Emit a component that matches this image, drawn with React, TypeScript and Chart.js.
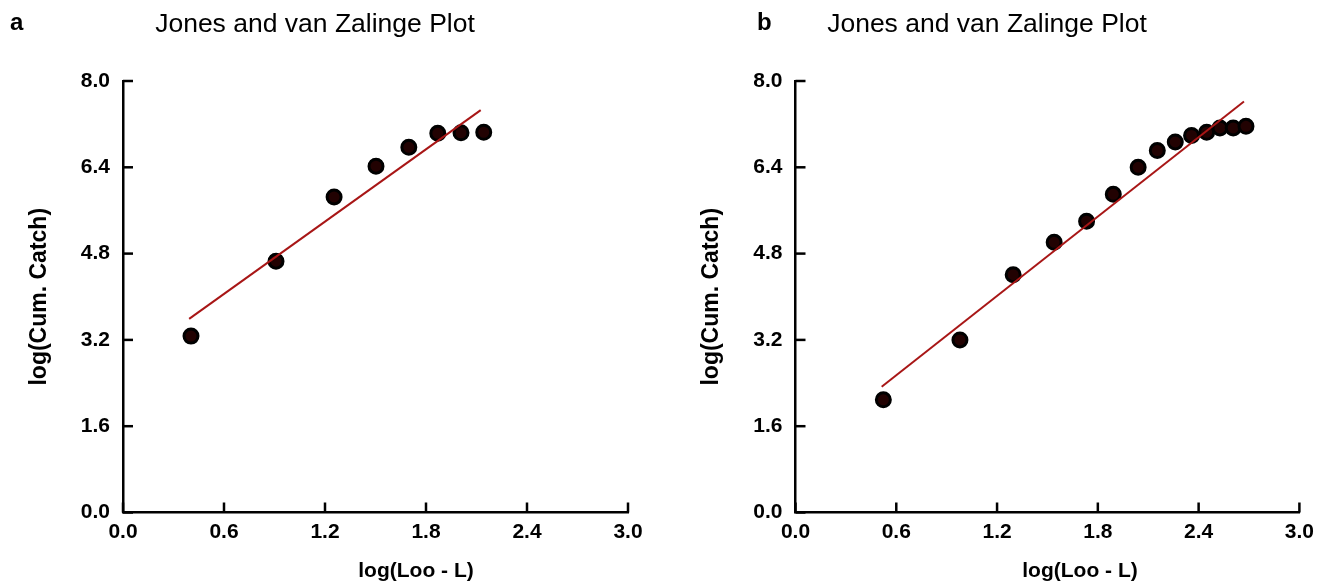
import React, { useEffect, useRef } from "react";
import { Chart, registerables } from "chart.js";

Chart.register(...registerables);

// ---- data ----
const xTickValues = [0, 0.6, 1.2, 1.8, 2.4, 3.0];
const yTickValues = [0, 1.6, 3.2, 4.8, 6.4, 8.0];

const aX = [0.404, 0.909, 1.254, 1.503, 1.698, 1.87, 2.008, 2.143];
const aY = [3.27, 4.66, 5.85, 6.42, 6.77, 7.03, 7.04, 7.05];
const aFitX = [0.393, 2.125];
const aFitY = [3.59, 7.46];

const bX = [0.523, 0.979, 1.296, 1.54, 1.733, 1.892, 2.04, 2.154, 2.261, 2.358, 2.448, 2.527, 2.606, 2.682];
const bY = [2.09, 3.2, 4.41, 5.01, 5.4, 5.9, 6.4, 6.71, 6.87, 6.99, 7.05, 7.13, 7.13, 7.16];
const bFitX = [0.513, 2.67];
const bFitY = [2.33, 7.62];

const panelLetters = ["a", "b"];
const plotTitle = "Jones and van Zalinge Plot";
const xAxisTitle = "log(Loo - L)";
const yAxisTitle = "log(Cum. Catch)";

const FONT = "'Liberation Sans', Arial, sans-serif";

type PanelLayout = {
  canvasLeft: number;
  canvasWidth: number;
  areaLeft: number;
  areaRight: number;
  titleX: number;
  xTitleX: number;
  yTitleX: number;
  letterX: number;
};

const layouts: PanelLayout[] = [
  { canvasLeft: 0, canvasWidth: 662, areaLeft: 123, areaRight: 628, titleX: 315, xTitleX: 416, yTitleX: 40, letterX: 10 },
  { canvasLeft: 662, canvasWidth: 663, areaLeft: 133.5, areaRight: 637.4, titleX: 325, xTitleX: 418, yTitleX: 50, letterX: 95 },
];

const AREA_TOP = 81;
const AREA_BOTTOM = 512.5;
const HEIGHT = 584;

const decorPlugin = {
  id: "decor",
  afterDraw(chart: any, _args: any, opts: any) {
    const { ctx, chartArea } = chart;
    const xs = chart.scales.x;
    const ys = chart.scales.y;
    ctx.save();
    ctx.strokeStyle = "#000";
    ctx.lineWidth = 2.5;
    ctx.lineCap = "butt";
    xs.ticks.forEach((t: any) => {
      const px = xs.getPixelForValue(t.value);
      ctx.beginPath();
      ctx.moveTo(px, chartArea.bottom);
      ctx.lineTo(px, chartArea.bottom - 10);
      ctx.stroke();
    });
    ys.ticks.forEach((t: any) => {
      const py = ys.getPixelForValue(t.value);
      ctx.beginPath();
      ctx.moveTo(chartArea.left, py);
      ctx.lineTo(chartArea.left + 10, py);
      ctx.stroke();
    });
    ctx.fillStyle = "#000";
    ctx.textBaseline = "alphabetic";
    ctx.font = `bold 24px ${FONT}`;
    ctx.textAlign = "left";
    ctx.fillText(opts.letter, opts.letterX, 30);
    ctx.font = `26.5px ${FONT}`;
    ctx.textAlign = "center";
    ctx.fillText(plotTitle, opts.titleX, 32);
    ctx.font = `bold 21px ${FONT}`;
    ctx.fillText(xAxisTitle, opts.xTitleX, 577);
    ctx.translate(opts.yTitleX, (chartArea.top + chartArea.bottom) / 2);
    ctx.rotate(-Math.PI / 2);
    ctx.textBaseline = "middle";
    ctx.font = `bold 23px ${FONT}`;
    ctx.fillText(yAxisTitle, 0, 0);
    ctx.restore();
  },
};

function Panel({ idx, xs, ys, fx, fy }: { idx: number; xs: number[]; ys: number[]; fx: number[]; fy: number[] }) {
  const ref = useRef<HTMLCanvasElement>(null);
  const L = layouts[idx];
  useEffect(() => {
    if (!ref.current) return;
    const axisBorder = { display: true, color: "#000", width: 2.5 };
    const tickFont = { family: FONT, size: 21, weight: "bold" as const };
    const chart = new Chart(ref.current, {
      type: "scatter",
      data: {
        datasets: [
          {
            data: fx.map((x, i) => ({ x, y: fy[i] })),
            showLine: true,
            borderColor: "#a81616",
            borderWidth: 2,
            pointRadius: 0,
            pointHoverRadius: 0,
          },
          {
            data: xs.map((x, i) => ({ x, y: ys[i] })),
            showLine: false,
            pointRadius: 7,
            pointHoverRadius: 7,
            pointBackgroundColor: "#220202",
            pointBorderColor: "#000",
            pointBorderWidth: 3,
          },
        ],
      },
      options: {
        animation: false,
        responsive: false,
        events: [],
        layout: { padding: { left: 0, top: AREA_TOP, right: L.canvasWidth - L.areaRight, bottom: 0 } },
        plugins: {
          legend: { display: false },
          tooltip: { enabled: false },
          title: { display: false },
          decor: { letter: panelLetters[idx], letterX: L.letterX, titleX: L.titleX, xTitleX: L.xTitleX, yTitleX: L.yTitleX },
        } as any,
        scales: {
          x: {
            type: "linear",
            min: 0,
            max: 3,
            grid: { display: false, drawTicks: false },
            border: axisBorder,
            afterBuildTicks: (s: any) => {
              s.ticks = xTickValues.map((v) => ({ value: v }));
            },
            afterFit: (s: any) => {
              s.height = HEIGHT - AREA_BOTTOM;
            },
            ticks: {
              color: "#000",
              font: tickFont,
              padding: 7,
              maxRotation: 0,
              autoSkip: false,
              callback: (v: any) => Number(v).toFixed(1),
            },
          },
          y: {
            type: "linear",
            min: 0,
            max: 8,
            grid: { display: false, drawTicks: false },
            border: axisBorder,
            afterBuildTicks: (s: any) => {
              s.ticks = yTickValues.map((v) => ({ value: v }));
            },
            afterFit: (s: any) => {
              s.width = L.areaLeft;
            },
            ticks: {
              color: "#000",
              font: tickFont,
              padding: 13,
              autoSkip: false,
              callback: (v: any) => Number(v).toFixed(1),
            },
          },
        },
      },
      plugins: [decorPlugin],
    });
    return () => chart.destroy();
  }, []);
  return (
    <canvas
      ref={ref}
      width={L.canvasWidth}
      height={HEIGHT}
      style={{ position: "absolute", left: L.canvasLeft, top: 0, width: L.canvasWidth, height: HEIGHT }}
    />
  );
}

export default function App() {
  return (
    <div style={{ position: "absolute", left: 0, top: 0, width: 1325, height: HEIGHT, background: "#fff", overflow: "hidden" }}>
      <Panel idx={0} xs={aX} ys={aY} fx={aFitX} fy={aFitY} />
      <Panel idx={1} xs={bX} ys={bY} fx={bFitX} fy={bFitY} />
    </div>
  );
}
